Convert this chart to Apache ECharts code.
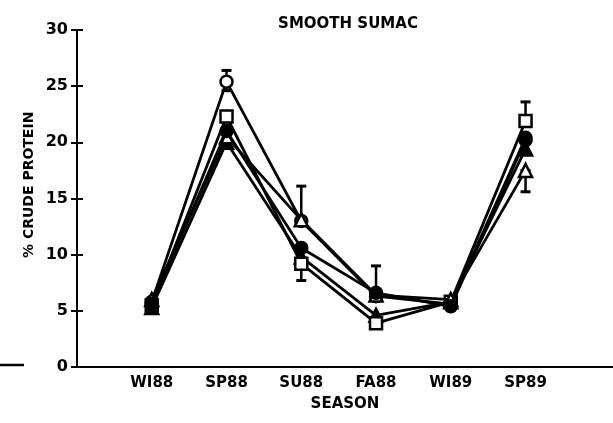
<!DOCTYPE html>
<html><head><meta charset="utf-8">
<script src="https://cdn.jsdelivr.net/npm/echarts@6/dist/echarts.min.js"></script>
<style>html,body{margin:0;padding:0;background:#fff}#c{width:613px;height:423px}</style>
</head><body><div id="c"></div>
<script>
const categories = ['WI88','SP88','SU88','FA88','WI89','SP89'];
const yTicks = [0,5,10,15,20,25,30];
const openCircle   = [5.8, 25.4, 13.0, 6.3, 5.6, 20.4];
const openSquare   = [5.5, 22.3, 9.2, 3.9, 5.8, 21.9];
const openTriangle = [6.0, 20.5, 13.1, 6.4, 6.0, 17.5];
const filledCircle = [5.6, 21.0, 10.6, 6.6, 5.4, 20.2];
const filledTri    = [5.3, 20.0, 9.8, 4.6, 5.8, 19.4];
// error bars: [categoryIndex, low, high]
const errorBars = [[1, 24.6, 26.4], [2, 13.1, 16.1], [2, 7.7, 10.6], [3, 6.6, 9.0], [5, 21.9, 23.6], [5, 15.6, 17.5]];

const FONT = '"DejaVu Sans", sans-serif';
const chart = echarts.init(document.getElementById('c'), null, {renderer: 'canvas'});

function mk(name, data, symbol, filled, z) {
  return {
    type: 'line', name, z,
    data: data.map((v, i) => [i, v]),
    symbol, symbolSize: symbol === 'triangle' ? 13 : 12,
    showAllSymbol: true,
    lineStyle: {color: '#000', width: 2.8},
    itemStyle: {color: filled ? '#000' : '#fff', borderColor: '#000', borderWidth: 2.5, opacity: 1},
    emphasis: {disabled: true},
    animation: false
  };
}

const option = {
  animation: false,
  backgroundColor: '#fff',
  title: {
    text: 'SMOOTH SUMAC', left: 343, top: 12, textAlign: 'center',
    textStyle: {fontFamily: FONT, fontWeight: 'bold', fontSize: 15, color: '#000'}
  },
  grid: {left: 77, right: 0, top: 30, bottom: 56},
  xAxis: {
    type: 'value', min: -1, max: 6.17,
    splitLine: {show: false},
    axisLine: {show: true, onZero: false, lineStyle: {color: '#000', width: 2}},
    axisTick: {show: false},
    axisLabel: {
      customValues: [0,1,2,3,4,5],
      formatter: v => categories[Math.round(v)] || '',
      fontFamily: FONT, fontWeight: 'bold', fontSize: 15, color: '#000', margin: 9
    },
    name: 'SEASON', nameLocation: 'middle', nameGap: 30,
    nameTextStyle: {fontFamily: FONT, fontWeight: 'bold', fontSize: 15, color: '#000'}
  },
  yAxis: [{
    type: 'value', min: 0, max: 30, interval: 5,
    splitLine: {show: false},
    axisLine: {show: true, onZero: false, lineStyle: {color: '#000', width: 2}},
    axisTick: {show: true, length: 6, lineStyle: {color: '#000', width: 2}},
    axisLabel: {
      formatter: v => yTicks.includes(v) ? String(v) : '',
      fontFamily: FONT, fontWeight: 'bold', fontSize: 16, color: '#000', margin: 9
    }
  }, {
    type: 'value', min: 0, max: 30, interval: 5, position: 'left', offset: 0,
    splitLine: {show: false},
    axisLine: {show: true, onZero: false, lineStyle: {color: '#000', width: 2}},
    axisTick: {show: true, inside: true, length: 6, lineStyle: {color: '#000', width: 2}},
    axisLabel: {show: false}
  }],
  graphic: [
    {type: 'text', rotation: Math.PI / 2,
     style: {text: '% CRUDE PROTEIN', fontFamily: FONT, fontWeight: 'bold', fontSize: 14, fill: '#000'},
     x: 22, y: 258},
    {type: 'line', shape: {x1: 0, y1: 365, x2: 24, y2: 365}, style: {stroke: '#000', lineWidth: 2.5}}
  ],
  series: [
    {
      type: 'custom', z: 1,
      data: errorBars,
      renderItem: (params, api) => {
        const x = api.value(0);
        const lo = api.coord([x, api.value(1)]);
        const hi = api.coord([x, api.value(2)]);
        const w = 5;
        return {
          type: 'group',
          children: [
            {type: 'line', shape: {x1: lo[0], y1: lo[1], x2: hi[0], y2: hi[1]}, style: {stroke: '#000', lineWidth: 2.5}},
            {type: 'line', shape: {x1: lo[0]-w, y1: lo[1], x2: lo[0]+w, y2: lo[1]}, style: {stroke: '#000', lineWidth: 3}},
            {type: 'line', shape: {x1: hi[0]-w, y1: hi[1], x2: hi[0]+w, y2: hi[1]}, style: {stroke: '#000', lineWidth: 3}}
          ]
        };
      },
      animation: false
    },
    mk('filledTriangle', filledTri, 'triangle', true, 2),
    mk('openCircle', openCircle, 'circle', false, 3),
    mk('openSquare', openSquare, 'rect', false, 4),
    mk('openTriangle', openTriangle, 'triangle', false, 5),
    mk('filledCircle', filledCircle, 'circle', true, 6)
  ]
};
chart.setOption(option);
</script></body></html>
